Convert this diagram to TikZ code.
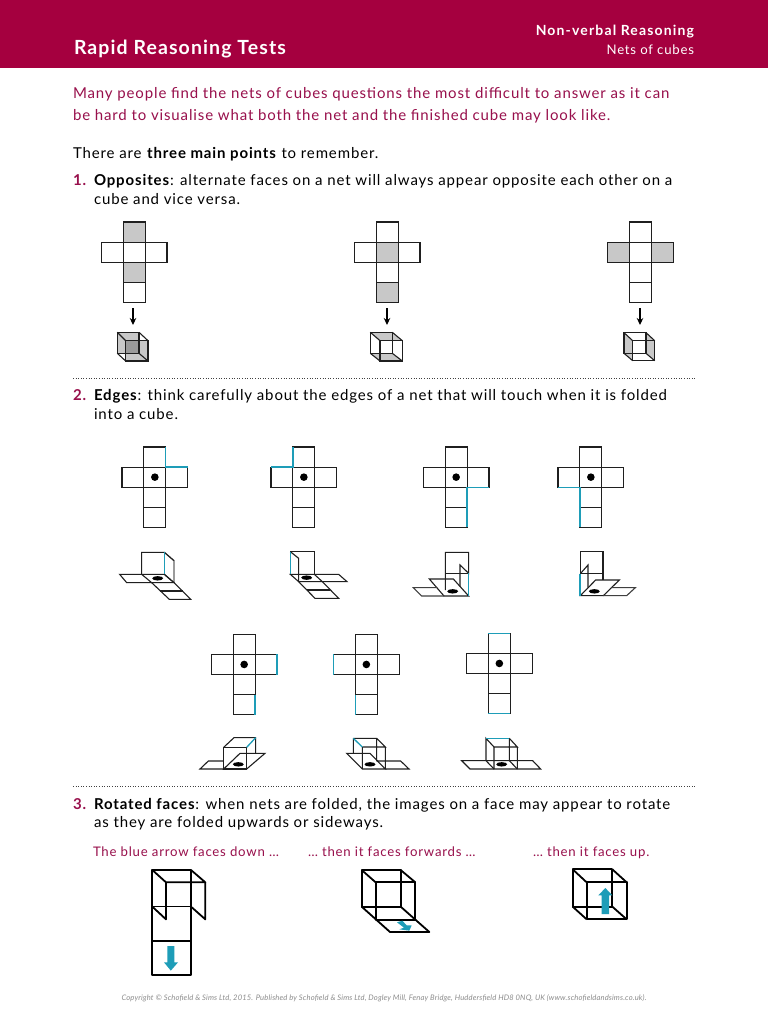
\documentclass[tikz,border=0pt]{standalone}
\usepackage{fontspec}
\setmainfont[LetterSpace=5.8]{Lato}
\definecolor{brand}{HTML}{A5003F}
\definecolor{txtm}{HTML}{98104C}
\definecolor{teal1}{HTML}{1E9DB8}
\definecolor{gr}{HTML}{C8C8C8}
\definecolor{grd}{HTML}{9A9A9A}
\usetikzlibrary{arrows.meta}
\tikzset{
  txt/.style={anchor=base west,inner sep=0pt,outer sep=0pt,font=\fontsize{15}{18}\selectfont},
  capt/.style={txt,text=txtm,font=\fontsize{13.2}{16}\selectfont},
  head/.style={anchor=base west,inner sep=0pt,outer sep=0pt,text=white},
  num/.style={txt,text=txtm,font=\fontsize{15}{18}\selectfont\bfseries},
  ln/.style={line width=1.1pt,black!88,line join=miter},
  hv/.style={line width=1.8pt,black,line join=round},
  bl/.style={line width=1.3pt,teal1},
  sep/.style={line width=1pt,black!75,dash pattern=on 1pt off 1.6pt},
  arr/.style={line width=1.1pt,-{Stealth[length=7pt,width=6.5pt]}},
  zm/.style={x=0.33333pt,y=-0.33333pt},
}
% cross-shaped net: x,y of top-left of bounding box, under-drawing, over-drawing
\newcommand\crossnet[4]{%
  \begin{scope}[shift={(#1,#2)},x=21.9pt,y=-20.1pt]
    #3
    \draw[ln] (1,0) rectangle (2,4);
    \draw[ln] (0,1) rectangle (3,2);
    \draw[ln] (1,3) -- (2,3);
    #4
  \end{scope}}
\newcommand\netdot{\fill (1.5,1.5) circle[radius=3.8pt];}
\begin{document}
\begin{tikzpicture}[x=1pt,y=-1pt]
\useasboundingbox (0,0) rectangle (768,1024);
\fill[white] (0,0) rectangle (768,1024);
\fill[brand] (0,0) rectangle (768,68);
\node[head,font=\fontsize{19.5}{23}\selectfont\bfseries\addfontfeature{LetterSpace=5.6}] (title) at (74,55) {Rapid Reasoning Tests};
\node[head,anchor=base east,font=\fontsize{14}{17}\selectfont\bfseries\addfontfeature{LetterSpace=8.2}] (h1) at (694,36) {Non-verbal Reasoning};
\node[head,anchor=base east,font=\fontsize{13.2}{16}\selectfont] (h2) at (694,55) {Nets of cubes};

\node[txt,text=txtm] (i1) at (73,99) {Many people find the nets of cubes questions the most difficult to answer as it can};
\node[txt,text=txtm] (i2) at (73,121) {be hard to visualise what both the net and the finished cube may look like.};
\node[txt] (t0) at (73,158.5) {There are \textbf{three main points} to remember.};
\node[num] (n1) at (73,186) {1.};
\node[txt] (t1) at (94,186) {\textbf{Opposites}: alternate faces on a net will always appear opposite each other on a};
\node[txt] (t1b) at (94,205) {cube and vice versa.};
\node[num] (n2) at (73,400) {2.};
\node[txt] (t2) at (94,400) {\textbf{Edges}: think carefully about the edges of a net that will touch when it is folded};
\node[txt] (t2b) at (94,419) {into a cube.};
\node[num] (n3) at (73,809) {3.};
\node[txt] (t3) at (94,809) {\textbf{Rotated faces}: when nets are folded, the images on a face may appear to rotate};
\node[txt] (t3b) at (94,827) {as they are folded upwards or sideways.};
\node[capt] (c1) at (93,856) {The blue arrow faces down …};
\node[capt] (c2) at (308,856) {… then it faces forwards …};
\node[capt] (c3) at (533,856) {… then it faces up.};
\node[anchor=base,inner sep=0pt,text=black!45,font=\fontsize{7.6}{9}\selectfont\itshape\addfontfeature{LetterSpace=1.9}] (foot) at (384,1000) {Copyright © Schofield \& Sims Ltd, 2015. Published by Schofield \& Sims Ltd, Dogley Mill, Fenay Bridge, Huddersfield HD8 0NQ, UK (www.schofieldandsims.co.uk).};

\coordinate (s1a) at (73,378); \coordinate (s1b) at (695,378);
\coordinate (s2a) at (73,786); \coordinate (s2b) at (695,786);
\draw[sep] (s1a) -- (s1b);
\draw[sep] (s2a) -- (s2b);

% Section 1 nets
\crossnet{101.3}{222}{\fill[gr] (1,0) rectangle (2,1); \fill[gr] (1,2) rectangle (2,3);}{}
\crossnet{354.3}{222}{\fill[gr] (1,1) rectangle (2,2); \fill[gr] (1,3) rectangle (2,4);}{}
\crossnet{607.7}{222}{\fill[gr] (0,1) rectangle (1,2); \fill[gr] (2,1) rectangle (3,2);}{}
\coordinate (a1s) at (133,308); \coordinate (a1e) at (133,325);
\coordinate (a2s) at (387,308); \coordinate (a2e) at (387,325);
\coordinate (a3s) at (640,308); \coordinate (a3e) at (640,325);
\draw[arr] (a1s) -- (a1e);
\draw[arr] (a2s) -- (a2e);
\draw[arr] (a3s) -- (a3e);

% Section 1 cubes
\begin{scope}[shift={(80,210)},zm]
  \fill[gr] (112,367) rectangle (177,430);
  \fill[gr] (137,392) rectangle (204,453);
  \fill[gr] (112,367) -- (137,392) -- (137,367) -- cycle;
  \fill[grd] (137,392) rectangle (177,430);
  \draw[ln] (112,367) rectangle (177,430);
  \draw[ln] (137,392) rectangle (204,453);
  \draw[ln] (112,367) -- (137,392) (177,367) -- (204,392) (112,430) -- (137,453) (177,430) -- (204,453);
\end{scope}
\begin{scope}[shift={(80,210)},zm]
  \fill[gr] (871,367) -- (937,367) -- (967,392) -- (900,392) -- cycle;
  \fill[gr] (871,430) -- (937,430) -- (967,453) -- (900,453) -- cycle;
  \draw[ln] (871,367) rectangle (937,430);
  \draw[ln] (900,392) rectangle (967,453);
  \draw[ln] (871,367) -- (900,392) (937,367) -- (967,392) (871,430) -- (900,453) (937,430) -- (967,453);
\end{scope}
\begin{scope}[shift={(600,320)},zm]
  \fill[gr] (72,38) -- (98,62) -- (98,122) -- (72,100) -- cycle;
  \fill[gr] (138,38) -- (164,62) -- (164,122) -- (138,100) -- cycle;
  \draw[ln] (72,38) rectangle (138,100);
  \draw[ln] (98,62) rectangle (164,122);
  \draw[ln] (72,38) -- (98,62) (138,38) -- (164,62) (72,100) -- (98,122) (138,100) -- (164,122);
\end{scope}

% Section 2 nets, first row
\crossnet{122}{447}{}{\netdot \draw[bl] (2,0) -- (2,1) -- (3,1);}
\crossnet{271}{447}{}{\netdot \draw[bl] (1,0) -- (1,1) -- (0,1);}
\crossnet{423.3}{447}{}{\netdot \draw[bl] (3,2) -- (2,2) -- (2,4);}
\crossnet{558}{447}{}{\netdot \draw[bl] (0,2) -- (1,2) -- (1,4);}
% Section 2 nets, second row
\crossnet{211.3}{634.3}{}{\netdot \draw[bl] (3,1) -- (3,2) (2,3) -- (2,4);}
\crossnet{333.5}{634.3}{}{\netdot \draw[bl] (0,1) -- (0,2) (1,3) -- (1,4);}
\crossnet{466.5}{633.3}{}{\netdot \draw[bl] (1,0) -- (2,0) (1,4) -- (2,4);}

% Folded nets, first row
\begin{scope}[shift={(100,540)},zm]
  \draw[ln,black!60] (193,37) -- (222,62) -- (222,128);
  \draw[ln] (125,103) -- (125,37) -- (193,37) (193,37) -- (222,62);
  \draw[ln] (59,103) -- (193,103) -- (222,128) -- (80,128) -- cycle;
  \draw[ln] (125,103) -- (155,128) -- (208,178) -- (272,178) -- (222,128);
  \draw[ln] (180,153) -- (248,153);
  \draw[bl] (193,37) -- (193,103);
  \fill (173,115) ellipse[x radius=5.5pt,y radius=2.2pt];
  \draw[ln] (193,103) -- (222,128);
\end{scope}
\begin{scope}[shift={(100,540)},zm]
  \draw[ln] (571,103) -- (571,35) -- (643,35) -- (643,103);
  \draw[ln] (571,35) -- (596,55) -- (596,125);
  \draw[ln] (571,103) -- (716,103) -- (741,125) -- (596,125) -- cycle;
  \draw[ln] (643,103) -- (667,125) -- (716,175) -- (645,175) -- (596,125);
  \draw[ln] (622,150) -- (690,150);
  \draw[bl] (571,35) -- (571,103);
  \fill (620,113) ellipse[x radius=5.5pt,y radius=2.2pt];
\end{scope}
\begin{scope}[shift={(390,540)},zm]
  \draw[ln] (166,150) -- (166,37) -- (236,37) -- (236,100) -- (210,75) -- (210,140);
  \draw[ln] (166,100) -- (236,100);
  \draw[ln] (118,117) -- (190,117) -- (236,168) -- (162,168) -- cycle;
  \draw[ln,black!75] (142,143) -- (70,143) -- (95,168) -- (162,168);
  \draw[bl] (236,100) -- (236,168);
  \fill (188,154) ellipse[x radius=5.5pt,y radius=2.2pt];
\end{scope}
\begin{scope}[shift={(390,540)},zm]
  \draw[ln] (571,101) -- (571,34) -- (639,34) -- (639,120);
  \draw[ln] (571,101) -- (639,101);
  \draw[ln] (571,101) -- (594,75) -- (594,143);
  \draw[ln] (571,167) -- (640,167) -- (688,120) -- (617,120) -- cycle;
  \draw[ln,black!75] (664,143) -- (736,143) -- (710,167) -- (640,167);
  \draw[bl] (570,101) -- (570,167);
  \fill (613,154) ellipse[x radius=5.5pt,y radius=2.2pt];
\end{scope}
% Folded nets, second row
\begin{scope}[shift={(190,625)},zm]
  \draw[ln] (101,367) rectangle (170,432);
  \draw[ln] (101,367) -- (132,338) -- (197,338) -- (197,385);
  \draw[ln] (101,432) -- (170,432) -- (225,385) -- (150,385) -- cycle;
  \draw[ln] (101,408) -- (55,408) -- (30,432) -- (101,432);
  \draw[bl] (170,367) -- (197,338);
  \fill (145,418) ellipse[x radius=5.5pt,y radius=2.2pt];
\end{scope}
\begin{scope}[shift={(190,625)},zm]
  \draw[ln] (490,340) -- (560,340) -- (586,366) -- (517,366) (517,366) -- (517,432) (586,366) -- (586,432) (490,340) -- (490,385) (560,340) -- (560,408);
  \draw[ln] (470,385) -- (540,385) -- (586,432) -- (517,432) -- cycle;
  \draw[ln] (560,408) -- (632,408) -- (657,432) -- (586,432);
  \draw[bl] (490,340) -- (517,366);
  \fill (540,418) ellipse[x radius=5.5pt,y radius=2.2pt];
\end{scope}
\begin{scope}[shift={(190,625)},zm]
  \draw[ln] (958,340) -- (982,366) -- (912,366) -- (888,340) -- (888,407) (912,366) -- (912,432) (982,366) -- (982,432) (958,340) -- (958,407);
  \draw[ln] (815,407) -- (1028,407) -- (1052,432) -- (840,432) -- cycle;
  \draw[ln] (888,407) -- (912,432) (958,407) -- (982,432);
  \draw[bl] (888,340) -- (958,340);
  \fill (935,418) ellipse[x radius=5.5pt,y radius=2.2pt];
\end{scope}

% Section 3
\begin{scope}[shift={(130,860)},zm]
  \draw[hv] (67,30) rectangle (183,346);
  \draw[line width=1pt] (67,140) -- (183,140);
  \draw[hv] (67,243) -- (183,243);
  \draw[hv] (67,30) -- (108,67) -- (226,67) -- (183,30);
  \draw[hv] (108,67) -- (108,178) -- (67,140);
  \draw[hv] (226,67) -- (226,178) -- (183,140);
  \fill[teal1] (112,258) -- (133,258) -- (133,307) -- (144,307) -- (122.5,332) -- (102,307) -- (112,307) -- cycle;
\end{scope}
\begin{scope}[shift={(130,860)},zm]
  \draw[hv] (695,30) rectangle (812,140);
  \draw[hv] (737,67) rectangle (856,180);
  \draw[hv] (695,30) -- (737,67) (812,30) -- (856,67);
  \draw[hv] (695,140) -- (780,216) -- (898,216) -- (812,140);
  \fill[teal1] (801,187) -- (817,182) -- (830,196) -- (845,196) -- (838,212) -- (808,208) -- (822,203) -- cycle;
\end{scope}
\begin{scope}[shift={(540,860)},zm]
  \draw[hv] (98,28) rectangle (217,140);
  \draw[hv] (140,67) rectangle (260,178);
  \draw[hv] (98,28) -- (140,67) (217,28) -- (260,67) (98,140) -- (140,178) (217,140) -- (260,178);
  \fill[teal1] (185,162) -- (207,162) -- (207,106) -- (217,106) -- (196,84) -- (175,106) -- (185,106) -- cycle;
\end{scope}
\end{tikzpicture}
\end{document}
